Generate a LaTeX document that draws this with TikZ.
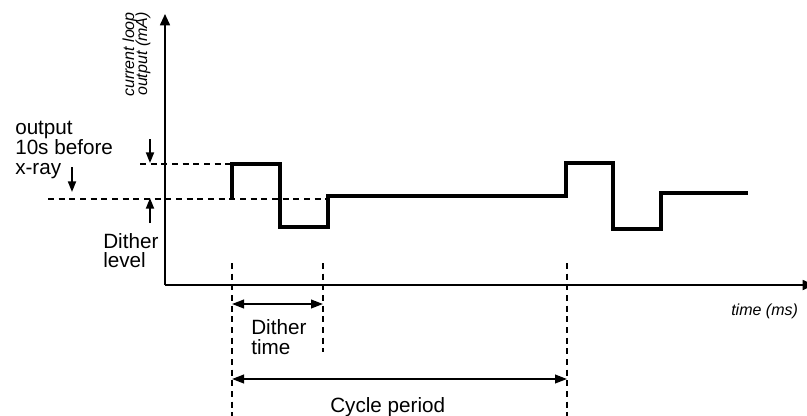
\documentclass[tikz,border=0pt]{standalone}
\usepackage{fontspec}
\setmainfont{Liberation Sans}
\usetikzlibrary{arrows.meta}
\begin{document}
\begin{tikzpicture}[x=0.75pt,y=-0.75pt,
  lbl/.style={inner sep=0pt, anchor=base west, font=\fontsize{15.5}{18}\selectfont},
  axlbl/.style={inner sep=0pt, font=\fontsize{12}{14}\selectfont\itshape},
  axis/.style={line width=1.3pt},
  sig/.style={line width=2.3pt, line join=miter},
  guide/.style={line width=1.4pt, dash pattern=on 4.5pt off 3.5pt},
  dim/.style={line width=1.4pt, {Triangle[length=9pt,width=6.5pt]}-{Triangle[length=9pt,width=6.5pt]}},
  marker/.style={line width=1.4pt, -{Triangle[length=8pt,width=6pt]}},
]
\useasboundingbox (0,0) rectangle (807,415);

% axes
\coordinate (O) at (165,285);
\coordinate (Ytop) at (165,14);
\coordinate (Xend) at (814,285);
\draw[axis, -{Triangle[length=8.5pt,width=7.5pt]}] (O) -- (Ytop);
\draw[axis, -{Triangle[length=8.5pt,width=7.5pt]}] (O) -- (Xend);

\node[axlbl, rotate=90, anchor=base east] (yl1) at (134,12) {current loop};
\node[axlbl, rotate=90, anchor=base east] (yl2) at (147,12) {output (mA)};
\node[axlbl, anchor=base west] (xl) at (731,315) {time (ms)};

% guide lines
\coordinate (hu0) at (140,164);
\coordinate (hu1) at (232,164);
\coordinate (hl0) at (48,199);
\coordinate (hl1) at (328,199);
\draw[guide] (hu0) -- (hu1);
\draw[guide] (hl0) -- (hl1);

\coordinate (v1t) at (232,263);
\coordinate (v1b) at (232,416);
\coordinate (v2t) at (323,263);
\coordinate (v2b) at (323,352);
\coordinate (v3t) at (567,263);
\coordinate (v3b) at (567,416);
\draw[guide] (v1t) -- (v1b);
\draw[guide] (v2t) -- (v2b);
\draw[guide] (v3t) -- (v3b);

% signal
\draw[sig] (232,199) -- (232,164) -- (280,164) -- (280,227) -- (328,227) -- (328,196)
  -- (566,196) -- (566,163) -- (613,163) -- (613,229) -- (661,229) -- (661,193) -- (748,193);

% level markers
\coordinate (m1a) at (150,139); \coordinate (m1b) at (150,163);
\coordinate (m2a) at (72,167);  \coordinate (m2b) at (72,192);
\coordinate (m3a) at (150,223); \coordinate (m3b) at (150,198);
\draw[marker] (m1a) -- (m1b);
\draw[marker] (m2a) -- (m2b);
\draw[marker] (m3a) -- (m3b);

% dimension arrows
\coordinate (d1a) at (232,304); \coordinate (d1b) at (323,304);
\coordinate (d2a) at (232,379); \coordinate (d2b) at (567,379);
\draw[dim] (d1a) -- (d1b);
\draw[dim] (d2a) -- (d2b);

% labels
\node[lbl] (t1) at (15,134) {output};
\node[lbl] (t2) at (15,154) {10s before};
\node[lbl] (t3) at (15,174) {x-ray};
\node[lbl] (t4) at (103,248) {Dither};
\node[lbl] (t5) at (103,267) {level};
\node[lbl] (t6) at (251,334) {Dither};
\node[lbl] (t7) at (251,354) {time};
\node[lbl] (t8) at (330,412) {Cycle period};
\end{tikzpicture}
\end{document}
